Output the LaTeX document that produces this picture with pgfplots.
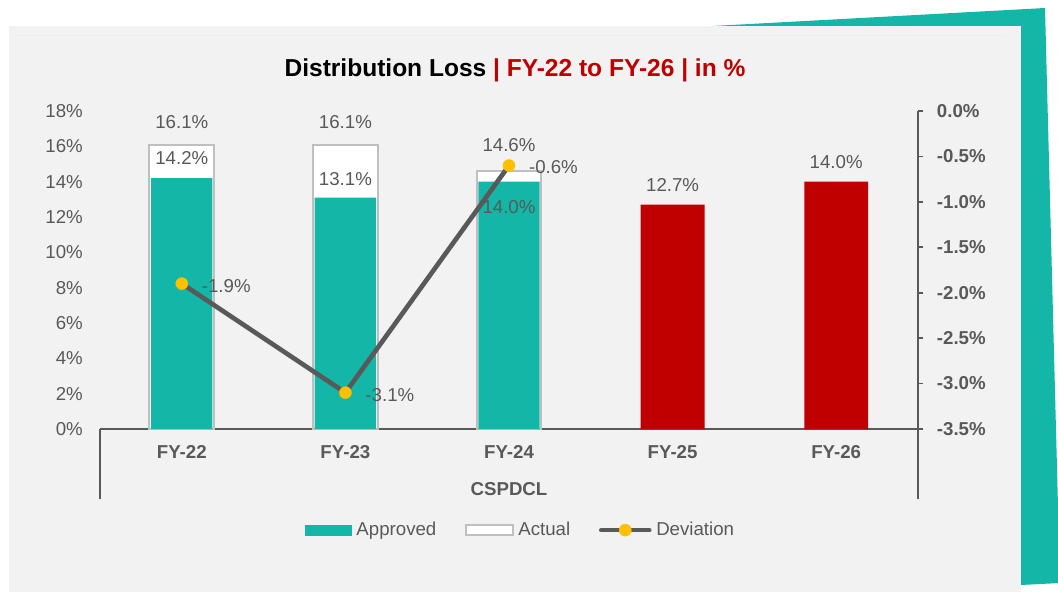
\documentclass[border=0pt]{standalone}
\usepackage{pgfplots}
\pgfplotsset{compat=1.18}
\usepackage{pgfplotstable}
\usepackage{fontspec}
\setmainfont{Liberation Sans}
\definecolor{tealc}{RGB}{20,183,167}
\definecolor{redc}{RGB}{192,0,0}
\definecolor{txtgray}{RGB}{89,89,89}
\definecolor{panel}{RGB}{242,242,242}
\definecolor{outl}{RGB}{191,191,191}
\definecolor{gold}{RGB}{255,192,0}
\definecolor{linegray}{RGB}{89,89,89}
\pgfplotsset{/pgf/number format/assume math mode=true}

\pgfplotstableread{
x y off
0 16.1 22
1 16.1 22
2 14.6 26
}\actual
\pgfplotstableread{
x y off
0 14.2 20
1 13.1 18
2 14.0 -25
}\approved
\pgfplotstableread{
x y off
3 12.7 20
4 14.0 20
}\projected
\pgfplotstableread{
x y
0 -1.9
1 -3.1
2 -0.6
}\deviation

\newcommand{\lblfont}{\fontsize{14}{16}\selectfont}
\newcommand{\pctlabel}{\pgfmathprintnumber[fixed,fixed zerofill,precision=1]{\pgfplotspointmeta}\%}

\begin{document}
\begin{tikzpicture}
\useasboundingbox (0pt,0pt) rectangle (793.5pt,-444pt);
\begin{scope}[x=0.75pt,y=-0.75pt]
\fill[tealc] (713,26) -- (1045,8) -- (1060,583) -- (1021,585) -- (1021,26) -- cycle;
\fill[panel] (9,26) rectangle (1021,592);
\draw[black!7, line width=0.5pt] (15,35) -- (1005,35);
\node[font=\fontsize{18.4}{22}\selectfont\bfseries, anchor=center, inner sep=0pt] at (515,70) {Distribution Loss \textcolor{redc}{| FY-22 to FY-26 | in \%}};
\end{scope}

\begin{axis}[
  at={(75pt,-321.75pt)}, anchor=south west,
  scale only axis, width=613.5pt, height=238.5pt,
  xmin=-0.5, xmax=4.5, ymin=0, ymax=18,
  clip=false,
  axis x line*=bottom, axis y line*=left,
  y axis line style={draw=none},
  x axis line style={draw=linegray, line width=1.5pt, -},
  xtick={0,...,4}, xticklabels={FY-22,FY-23,FY-24,FY-25,FY-26},
  ytick={0,2,...,18},
  yticklabel={\pgfmathprintnumber{\tick}\%},
  major tick length=0pt,
  xticklabel style={font=\lblfont\bfseries, text=txtgray, anchor=center, yshift=-17.25pt},
  yticklabel style={font=\lblfont, text=txtgray, anchor=east, inner sep=0pt, xshift=-12.75pt},
  xlabel={CSPDCL},
  xlabel style={font=\lblfont\bfseries, text=txtgray, at={(axis description cs:0.5,0)}, anchor=center, yshift=-45pt},
  legend style={at={(0.5155,-0.318)}, anchor=center, draw=none, fill=none, font=\lblfont, text=txtgray,
    nodes={inner xsep=3.5pt},
    /tikz/every even column/.append style={column sep=18pt}},
  legend columns=3,
  nodes near coords style={font=\lblfont, text=txtgray, inner sep=0pt},
]
\addlegendimage{legend image code/.code={\fill[tealc] (0pt,-3.9pt) rectangle (35pt,3.9pt);}}
\addlegendentry{Approved}
\addlegendimage{legend image code/.code={\draw[outl, line width=1.5pt, fill=white] (0pt,-3.9pt) rectangle (35pt,3.9pt);}}
\addlegendentry{Actual}
\addlegendimage{legend image code/.code={\draw[linegray, line width=3.5pt, line cap=round] (0pt,0pt) -- (36pt,0pt); \fill[gold] (18pt,0pt) circle (4.5pt);}}
\addlegendentry{Deviation}

\addplot[ybar, bar width=0.395, bar shift=0pt, fill=white, draw=outl, line width=1.5pt, forget plot,
  point meta=y, nodes near coords={\pctlabel},
  visualization depends on={\thisrow{off} \as \off},
  every node near coord/.append style={anchor=center, yshift={\off*0.75pt}}]
  table[x=x, y=y]{\actual};
\addplot[ybar, bar width=0.375, bar shift=0pt, fill=tealc, draw=none, forget plot,
  point meta=y, nodes near coords={\pctlabel},
  visualization depends on={\thisrow{off} \as \off},
  every node near coord/.append style={anchor=center, yshift={\off*0.75pt}}]
  table[x=x, y=y]{\approved};
\addplot[ybar, bar width=0.39, bar shift=0pt, fill=redc, draw=none, forget plot,
  point meta=y, nodes near coords={\pctlabel},
  visualization depends on={\thisrow{off} \as \off},
  every node near coord/.append style={anchor=center, yshift={\off*0.75pt}}]
  table[x=x, y=y]{\projected};
\end{axis}

\begin{axis}[
  at={(75pt,-321.75pt)}, anchor=south west,
  scale only axis, width=613.5pt, height=238.5pt,
  xmin=-0.5, xmax=4.5, ymin=-3.5, ymax=0,
  clip=false,
  axis x line=none, axis y line*=right,
  y axis line style={draw=linegray, line width=1.2pt, -},
  ytick={-3.5,-3,...,0},
  yticklabel={\pgfmathprintnumber[fixed,fixed zerofill,precision=1]{\tick}\%},
  tick align=outside, major tick length=4pt,
  ytick style={draw=linegray, line width=1.2pt},
  yticklabel style={font=\lblfont\bfseries, text=txtgray, anchor=west, inner sep=0pt, xshift=10pt},
  nodes near coords style={font=\lblfont, text=txtgray, inner sep=0pt},
]
\addplot[draw=linegray, line width=3.5pt, line join=round, mark=*, mark size=4.6pt,
  mark options={solid, fill=gold, draw=gold, line width=0.1pt},
  point meta=y, nodes near coords={\pctlabel},
  every node near coord/.append style={anchor=west, xshift=15pt, yshift=-1.5pt}]
  table[x=x, y=y]{\deviation};
\end{axis}

\begin{scope}[x=0.75pt,y=-0.75pt]
\draw[linegray, line width=1.5pt] (100,428.5) -- (100,499);
\draw[linegray, line width=1.2pt] (918,429) -- (918,499);
\end{scope}
\end{tikzpicture}
\end{document}
